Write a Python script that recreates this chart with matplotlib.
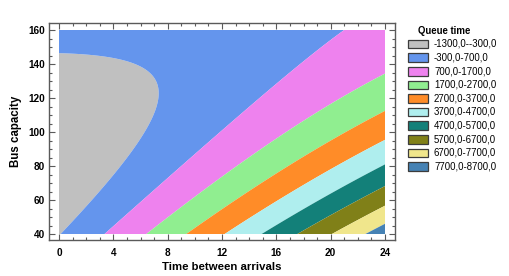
import numpy as np
import matplotlib
matplotlib.use("Agg")
import matplotlib.pyplot as plt
from matplotlib.patches import Rectangle
from matplotlib.ticker import MultipleLocator

# Fitted response surface of queue time
coef_const = 1617.96
coef_time = 411.409
coef_cap = -62.2952
coef_time2 = 2.44971
coef_time_cap = -2.76011
coef_cap2 = 0.33608

time_range = [0, 24]
capacity_range = [40, 160]
x_ticks = [0, 4, 8, 12, 16, 20, 24]
y_ticks = [40, 60, 80, 100, 120, 140, 160]

levels = [-1300, -300, 700, 1700, 2700, 3700, 4700, 5700, 6700, 7700, 8700]
level_labels = ["-1300,0--300,0", "-300,0-700,0", "700,0-1700,0", "1700,0-2700,0",
                "2700,0-3700,0", "3700,0-4700,0", "4700,0-5700,0", "5700,0-6700,0",
                "6700,0-7700,0", "7700,0-8700,0"]
level_colors = ["#C0C0C0", "#6495ED", "#EE82EE", "#90EE90", "#FF8C28",
                "#AFEEEE", "#138079", "#808018", "#F0E68C", "#4682B4"]

W, H = 509, 276
fig = plt.figure(figsize=(W / 100, H / 100), dpi=100)
fig.patch.set_facecolor("white")

# axes frame in pixels
L, R, T, B = 49, 395, 23, 240
ax = fig.add_axes([L / W, (H - B) / H, (R - L) / W, (B - T) / H])

tx = np.linspace(time_range[0], time_range[1], 400)
cy = np.linspace(capacity_range[0], capacity_range[1], 400)
X, Y = np.meshgrid(tx, cy)
Z = (coef_const + coef_time * X + coef_cap * Y + coef_time2 * X ** 2
     + coef_time_cap * X * Y + coef_cap2 * Y ** 2)
ax.contourf(X, Y, Z, levels=levels, colors=level_colors, antialiased=True)

# data region 0..24 -> px 59..385, 40..160 -> px 234..30
sx = (385 - 59) / 24.0
sy = (234 - 30) / 120.0
ax.set_xlim(0 - (59 - L) / sx, 24 + (R - 385) / sx)
ax.set_ylim(40 - (B - 234) / sy, 160 + (30 - T) / sy)

frame_col = "#5a5a5a"
for s in ax.spines.values():
    s.set_color(frame_col)
    s.set_linewidth(1.0)

ax.set_xticks(x_ticks)
ax.set_yticks(y_ticks)
ax.xaxis.set_minor_locator(MultipleLocator(1))
ax.yaxis.set_minor_locator(MultipleLocator(5))
ax.tick_params(which="both", direction="in", top=True, right=True,
               color=frame_col, width=0.8)
ax.tick_params(which="major", length=4)
ax.tick_params(which="minor", length=2.2)
ax.tick_params(axis="x", which="major", pad=6)
ax.tick_params(axis="y", which="major", pad=3)

tick_font = dict(family=["Liberation Sans Narrow", "Liberation Sans", "DejaVu Sans"],
                 weight="bold", size=7.2)
for lab in ax.get_xticklabels() + ax.get_yticklabels():
    lab.set_fontfamily(tick_font["family"])
    lab.set_fontweight("bold")
    lab.set_fontsize(7.2)
ax.set_xticklabels([str(v) for v in x_ticks], **tick_font)
ax.set_yticklabels([str(v) for v in y_ticks], **tick_font)

ax.set_xlabel("Time between arrivals",
              family=["Liberation Sans Narrow", "Liberation Sans", "DejaVu Sans"],
              weight="bold", size=8.2, va="center")
ax.xaxis.set_label_coords(0.5, (B - 266.5) / (B - T))
ax.set_ylabel("Bus capacity", family=["Liberation Sans", "DejaVu Sans"],
              weight="bold", size=8.3, va="center")
ax.yaxis.set_label_coords((16.5 - L) / (R - L), 0.5)

# legend
fig.text(418 / W, 1 - 30.5 / H, "Queue time", family=["Liberation Sans", "DejaVu Sans"],
         weight="bold", size=6.9, ha="left", va="center")
row0, dy = 44.0, 13.6
for i, (lab, col) in enumerate(zip(level_labels, level_colors)):
    yc = row0 + i * dy
    fig.patches.append(Rectangle((407.7 / W, 1 - (yc + 4.3) / H), 20 / W, 8.6 / H,
                                 transform=fig.transFigure, facecolor=col,
                                 edgecolor="#3c3c3c", linewidth=0.9))
    fig.text(434 / W, 1 - yc / H, lab, family=["Liberation Sans", "DejaVu Sans"],
             size=6.9, ha="left", va="center")

fig.savefig("out.png", dpi=100)
